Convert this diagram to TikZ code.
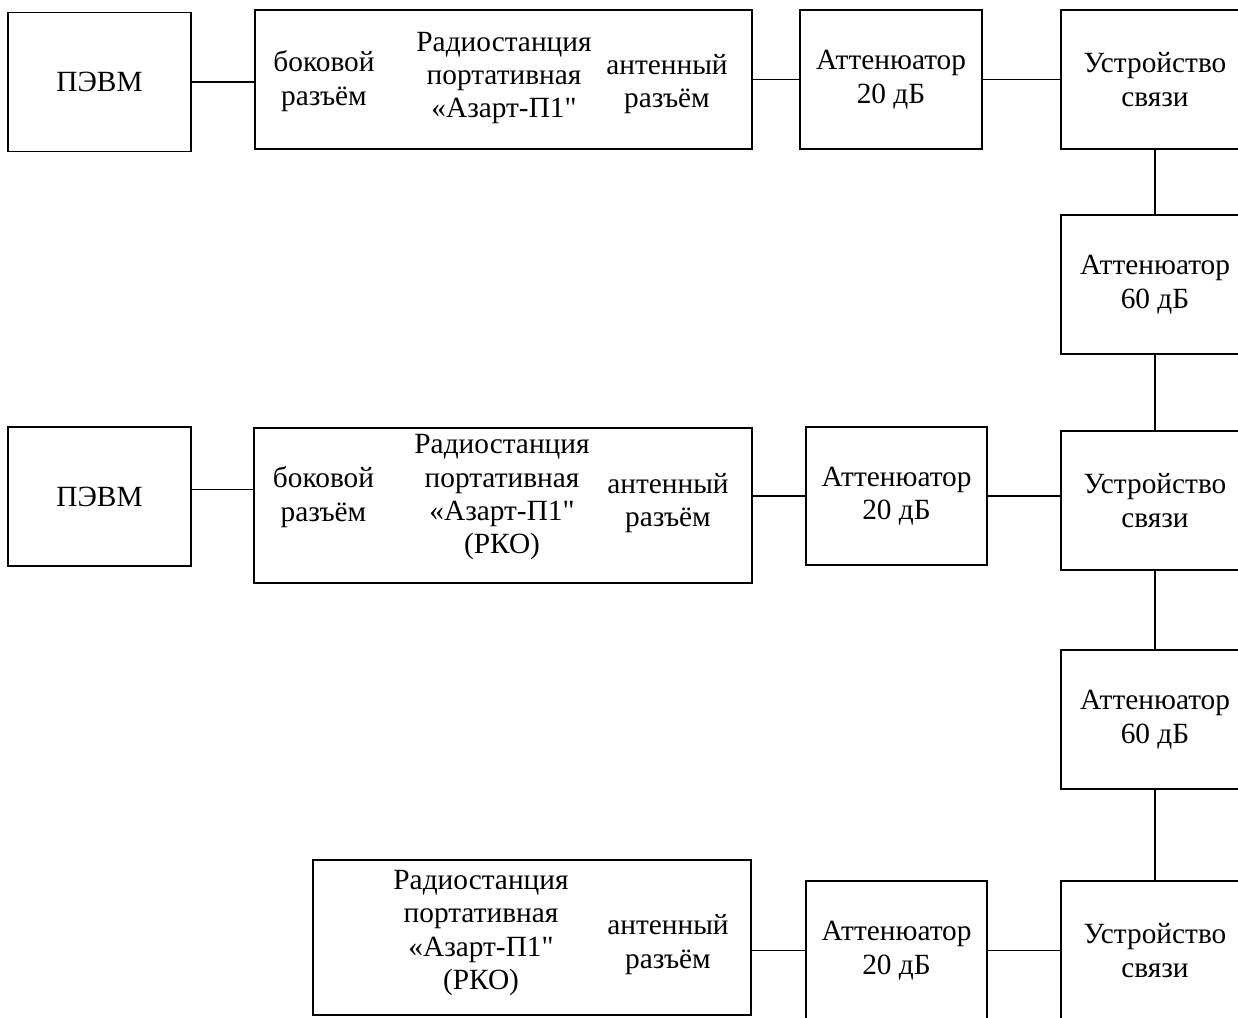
\documentclass[tikz,border=0pt]{standalone}
\usepackage{fontspec}
\setmainfont{Liberation Serif}
\newfontfamily\boxfont{Liberation Serif}
\usetikzlibrary{positioning}
\newlength{\pxlen}\setlength{\pxlen}{0.75pt}

\begin{document}
\begin{tikzpicture}[x=0.75pt, y=-0.75pt,
    block/.style={draw, line width=1.3pt, inner sep=0pt, align=center,
                  font=\boxfont\fontsize{22}{25}\selectfont},
    pcbox/.style={block, minimum width=183\pxlen, minimum height=139\pxlen},
    attbox/.style={block, minimum width=182\pxlen, minimum height=139\pxlen},
    sidebox/.style={block, minimum width=188\pxlen, minimum height=139\pxlen},
    txt/.style={align=center, inner sep=0pt, font=\boxfont\fontsize{22}{25}\selectfont},
    wire/.style={line width=0.8pt},
]
\useasboundingbox (0,0) rectangle (1238,1017);
% (1) first set: PC, radio, attenuator, link device
\node[pcbox] (pc1) at (99.5,82) {ПЭВМ};
\node[block, minimum width=497\pxlen, minimum height=139\pxlen] (radio1) at (503.5,79.5) {};
\node[txt] at (324,81) {боковой\\разъём};
\node[txt] at (504,78) {Радиостанция\\портативная\\«Азарт-П1"};
\node[txt] at (667,84) {антенный\\разъём};
\node[attbox] (att1) at (891,79.5) {Аттенюатор\\20 дБ};
\node[sidebox] (dev1) at (1155,79.5) {Устройство\\связи};
\node[sidebox] (att60a) at (1155,284.5) {Аттенюатор\\60 дБ};
\draw[wire] (pc1.east) -- (pc1.east -| radio1.west);
\draw[wire] (radio1.east) -- (radio1.east -| att1.west);
\draw[wire] (att1.east) -- (att1.east -| dev1.west);
\draw[wire] (dev1.south) -- (att60a.north);
% (2) second set: PC, radio (RKO)
\node[pcbox] (pc2) at (99.5,496.5) {ПЭВМ};
\node[block, minimum width=498\pxlen, minimum height=155\pxlen] (radio2) at (503,505.5) {};
\node[txt] at (323.5,497) {боковой\\разъём};
\node[txt] at (502,497.5) {Радиостанция\\портативная\\«Азарт-П1"\\(РКО)};
\node[txt] at (668,503) {антенный\\разъём};
\node[attbox, minimum width=181\pxlen, minimum height=138\pxlen] (att2) at (896.5,496) {Аттенюатор\\20 дБ};
\node[sidebox] (dev2) at (1155,500.5) {Устройство\\связи};
\node[sidebox] (att60b) at (1155,719.5) {Аттенюатор\\60 дБ};
\coordinate (w2) at ([yshift=5.6pt]pc2.east);
\draw[wire] (w2) -- (w2 -| radio2.west);
\draw[wire] (att2.west -| radio2.east) -- (att2.west);
\draw[wire] (att2.east) -- (att2.east -| dev2.west);
\draw[wire] (att60a.south) -- (dev2.north);
\draw[wire] (dev2.south) -- (att60b.north);
% (3) third set: radio (RKO) only
\node[block, minimum width=438\pxlen, minimum height=155\pxlen] (radio3) at (532,937.5) {};
\node[txt] at (481,933) {Радиостанция\\портативная\\«Азарт-П1"\\(РКО)};
\node[txt] at (668,944.5) {антенный\\разъём};
\node[attbox, minimum width=181\pxlen] (att3) at (896.5,950.5) {Аттенюатор\\20 дБ};
\node[sidebox] (dev3) at (1155,950.5) {Устройство\\связи};
\draw[wire] (att3.west -| radio3.east) -- (att3.west);
\draw[wire] (att3.east) -- (att3.east -| dev3.west);
\draw[wire] (att60b.south) -- (dev3.north);
\end{tikzpicture}
\end{document}
